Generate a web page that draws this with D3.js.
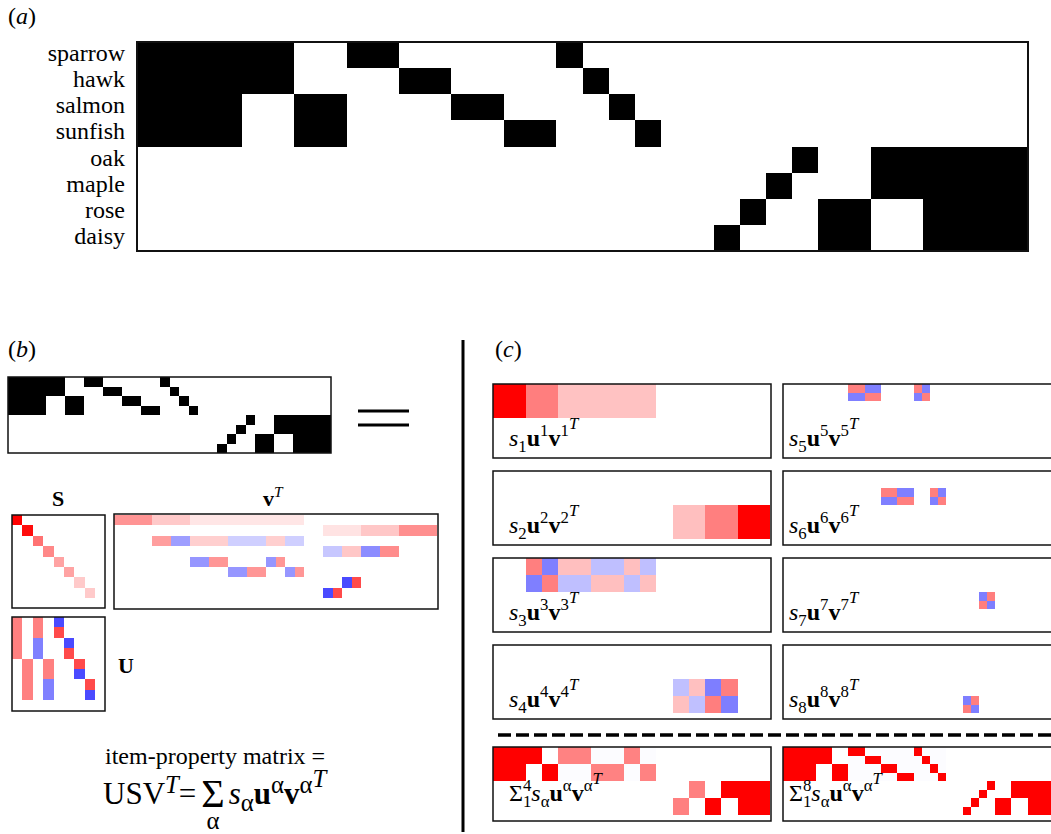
<!DOCTYPE html>
<html>
<head>
<meta charset="utf-8">
<script src="https://cdn.jsdelivr.net/npm/d3@7"></script>
<style>
  body { margin: 0; background: #fff; }
  text { font-family: "Liberation Serif", "Times New Roman", serif; fill: #000; }
</style>
</head>
<body>
<div id="chart"></div>
<script>
// ---- data ----
const items = ["sparrow", "hawk", "salmon", "sunfish", "oak", "maple", "rose", "daisy"];

// item-property matrix, one string of 34 properties per item
const propertyRows = [
  "1111110011000000100000000000000000",
  "1111110000110000010000000000000000",
  "1111001100001100001000000000000000",
  "1111001100000011000100000000000000",
  "0000000000000000000000000100111111",
  "0000000000000000000000001000111111",
  "0000000000000000000000010011001111",
  "0000000000000000000000100011001111"
];

const singularValues = [4.80, 4.58, 2.65, 2.24, 1.73, 1.73, 1.00, 1.00];

// U: rows = items, columns = modes
const U = [
  [0.5, 0,   0.5,  0,    -0.71, 0,     0,     0],
  [0.5, 0,   0.5,  0,     0.71, 0,     0,     0],
  [0.5, 0,  -0.5,  0,     0,   -0.71,  0,     0],
  [0.5, 0,  -0.5,  0,     0,    0.71,  0,     0],
  [0,   0.5, 0,    0.5,   0,    0,     0.71,  0],
  [0,   0.5, 0,    0.5,   0,    0,    -0.71,  0],
  [0,   0.5, 0,   -0.5,   0,    0,     0,     0.71],
  [0,   0.5, 0,   -0.5,   0,    0,     0,    -0.71]
];

// V transposed: rows = modes, columns = properties
const VT = [
  [.42,.42,.42,.42,.21,.21,.21,.21,.10,.10,.10,.10,.10,.10,.10,.10,.10,.10,.10,.10,0,0,0,0,0,0,0,0,0,0,0,0,0,0],
  [0,0,0,0,0,0,0,0,0,0,0,0,0,0,0,0,0,0,0,0,0,0,.11,.11,.11,.11,.22,.22,.22,.22,.44,.44,.44,.44],
  [0,0,0,0,.38,.38,-.38,-.38,.19,.19,.19,.19,-.19,-.19,-.19,-.19,.19,.19,-.19,-.19,0,0,0,0,0,0,0,0,0,0,0,0,0,0],
  [0,0,0,0,0,0,0,0,0,0,0,0,0,0,0,0,0,0,0,0,0,0,-.22,-.22,.22,.22,-.45,-.45,.45,.45,0,0,0,0],
  [0,0,0,0,0,0,0,0,-.41,-.41,.41,.41,0,0,0,0,-.41,.41,0,0,0,0,0,0,0,0,0,0,0,0,0,0,0,0],
  [0,0,0,0,0,0,0,0,0,0,0,0,-.41,-.41,.41,.41,0,0,-.41,.41,0,0,0,0,0,0,0,0,0,0,0,0,0,0],
  [0,0,0,0,0,0,0,0,0,0,0,0,0,0,0,0,0,0,0,0,0,0,0,0,-.71,.71,0,0,0,0,0,0,0,0],
  [0,0,0,0,0,0,0,0,0,0,0,0,0,0,0,0,0,0,0,0,0,0,-.71,.71,0,0,0,0,0,0,0,0,0,0]
];

const sumRanks = [4, 8];

// ---- derived ----
const X = propertyRows.map(r => r.split("").map(Number));
const nP = X[0].length, nI = X.length, nM = singularValues.length;

const component = k => U.map(urow => VT[k].map(v => singularValues[k] * urow[k] * v));
const partialSum = r => X.map((row, i) => row.map((_, j) =>
  d3.sum(d3.range(r), k => singularValues[k] * U[i][k] * VT[k][j])));
const Smat = d3.range(nM).map(i => d3.range(nM).map(j => i === j ? singularValues[i] / singularValues[0] : 0));

const bwr = d3.scaleLinear().domain([-1, 0, 1]).range(["#0000ff", "#ffffff", "#ff0000"]).clamp(true);
const grey = d3.scaleLinear().domain([0, 1]).range(["#ffffff", "#000000"]);

const svg = d3.select("#chart").append("svg")
  .attr("width", 1051).attr("height", 834)
  .style("background", "#fff");

function heat(mat, x0, y0, cw, ch, color) {
  const x = d3.scaleLinear().domain([0, mat[0].length]).range([x0, x0 + mat[0].length * cw]);
  const y = d3.scaleLinear().domain([0, mat.length]).range([y0, y0 + mat.length * ch]);
  const cells = mat.flatMap((row, i) => row.map((v, j) => ({i, j, v})))
    .filter(d => Math.abs(d.v) > 0.01);
  svg.append("g").attr("shape-rendering", "crispEdges")
    .selectAll("rect").data(cells).join("rect")
    .attr("x", d => Math.round(x(d.j)))
    .attr("y", d => Math.round(y(d.i)))
    .attr("width", d => Math.round(x(d.j + 1)) - Math.round(x(d.j)))
    .attr("height", d => Math.round(y(d.i + 1)) - Math.round(y(d.i)))
    .attr("fill", d => color(d.v));
}

function frame(x, y, w, h, sw) {
  svg.append("rect").attr("x", x).attr("y", y).attr("width", w).attr("height", h)
    .attr("fill", "none").attr("stroke", "#111").attr("stroke-width", sw || 1.5);
}

// math-like label built from pieces
function mathText(x, y, parts, size, scr, offs) {
  const off = offs || {0: 0, 1: -0.42, 2: -0.7, "-1": 0.26};
  const sr = scr || 0.7;
  let cx = x, held = 0;
  parts.forEach(p => {
    const lvl = p.l || 0;
    const fs = size * (lvl === 0 ? (p.big || 1) : sr);
    cx += p.dx || 0;
    const el = svg.append("text")
      .attr("x", cx).attr("y", y + off[lvl] * size + (p.big ? size * 0.1 : 0))
      .style("font-size", fs + "px")
      .style("font-style", p.i ? "italic" : "normal")
      .style("font-weight", p.b ? "bold" : "normal")
      .text(p.t);
    const w = el.node().getComputedTextLength();
    if (p.under) {
      svg.append("text").attr("x", cx + w / 2).attr("y", p.underY)
        .attr("text-anchor", "middle").style("font-size", size * sr + "px").text(p.under);
    }
    if (p.stack) { held = w; }
    else { cx += Math.max(w, held) + (p.dxAfter || 0); held = 0; }
  });
}

// ---- panel (a) ----
mathText(8, 24, [{t: "("}, {t: "a", i: 1}, {t: ")"}], 24);
const ax = [137, 1028], ay = [42, 251];
heat(X, ax[0], ay[0], (ax[1] - ax[0]) / nP, (ay[1] - ay[0]) / nI, grey);
frame(ax[0], ay[0], ax[1] - ax[0], ay[1] - ay[0], 2);
const rowY = d3.scaleBand().domain(items).range(ay);
svg.append("g").selectAll("text").data(items).join("text")
  .attr("x", 125).attr("y", d => rowY(d) + rowY.bandwidth() / 2 + 6)
  .attr("text-anchor", "end").style("font-size", "24px").text(d => d);

// ---- panel (b) ----
mathText(8, 357, [{t: "("}, {t: "b", i: 1}, {t: ")"}], 24);
heat(X, 8, 377, 9.5, 9.5, grey);
frame(8, 377, 323, 76, 1.5);
[411, 425].forEach(yy => svg.append("line").attr("x1", 358).attr("x2", 409)
  .attr("y1", yy).attr("y2", yy).attr("stroke", "#000").attr("stroke-width", 3));

svg.append("text").attr("x", 58).attr("y", 506).attr("text-anchor", "middle")
  .style("font-size", "22px").style("font-weight", "bold").text("S");
mathText(263, 506, [{t: "v", b: 1}, {t: "T", i: 1, l: 1}], 22);
svg.append("text").attr("x", 118).attr("y", 673)
  .style("font-size", "22px").style("font-weight", "bold").text("U");

heat(Smat, 12, 515, 10.4, 10.4, bwr);
frame(12, 515, 93, 93, 1.5);
heat(VT, 114, 515, 9.5, 10.4, bwr);
frame(114, 514, 324, 95, 1.5);
heat(U, 12, 617, 10.4, 10.4, bwr);
frame(12, 617, 93, 94, 1.5);

svg.append("text").attr("x", 105).attr("y", 764).style("font-size", "24px")
  .text("item-property matrix =");
mathText(103, 804, [
  {t: "USV"}, {t: "T", i: 1, l: 1}, {t: "=", dxAfter: 5},
  {t: "Σ", big: 1.3, under: "α", underY: 829, dxAfter: 4},
  {t: "s", i: 1}, {t: "α", l: -1}, {t: "u", b: 1}, {t: "α", l: 1},
  {t: "v", b: 1}, {t: "α", l: 1}, {t: "T", i: 1, l: 2}
], 31, 0.8, {0: 0, 1: -0.36, 2: -0.56, "-1": 0.24});

// ---- panel (c) ----
mathText(495, 357, [{t: "("}, {t: "c", i: 1}, {t: ")"}], 24);
svg.append("line").attr("x1", 463).attr("x2", 463).attr("y1", 340).attr("y2", 832)
  .attr("stroke", "#000").attr("stroke-width", 3);

const colX = [493, 783], labelDx = [16, 6];
const rowTop = [384, 471, 558, 645];
const cw = 8.16, ch = 8.5, boxW = [278, 290], boxH = 74;

d3.range(nM).forEach(k => {
  const c = Math.floor(k / 4), r = k % 4;
  const x0 = colX[c], y0 = rowTop[r];
  heat(component(k), x0, y0, cw, ch, bwr);
  frame(x0, y0, boxW[c], boxH, 1.5);
  const n = String(k + 1);
  mathText(x0 + labelDx[c], y0 + 62, [
    {t: "s", i: 1}, {t: n, l: -1}, {t: "u", b: 1}, {t: n, l: 1},
    {t: "v", b: 1}, {t: n, l: 1}, {t: "T", i: 1, l: 2}
  ], 24);
});

svg.append("line").attr("x1", 498).attr("x2", 1051).attr("y1", 735).attr("y2", 735)
  .attr("stroke", "#000").attr("stroke-width", 3.5).attr("stroke-dasharray", "13,5");

sumRanks.forEach((r, c) => {
  const x0 = colX[c], y0 = 747;
  heat(partialSum(r), x0, y0, cw, ch, bwr);
  frame(x0, y0, boxW[c], boxH, 1.5);
  mathText(x0 + labelDx[c], y0 + 54, [
    {t: "Σ"}, {t: "1", l: -1, stack: 1}, {t: String(r), l: 1},
    {t: "s", i: 1}, {t: "α", l: -1}, {t: "u", b: 1}, {t: "α", l: 1},
    {t: "v", b: 1}, {t: "α", l: 1}, {t: "T", i: 1, l: 2}
  ], 24);
});
</script>
</body>
</html>
